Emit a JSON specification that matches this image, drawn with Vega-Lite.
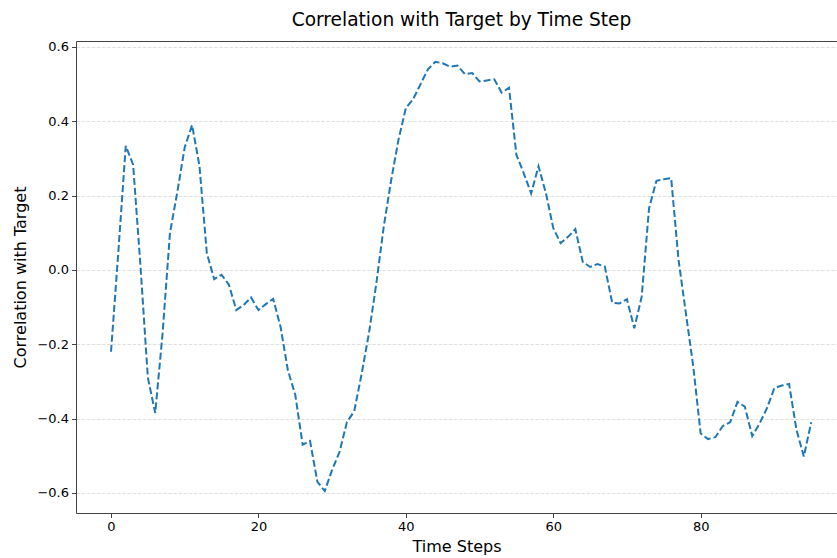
{
  "$schema": "https://vega.github.io/schema/vega-lite/v6.json",
  "width": 761,
  "height": 472,
  "autosize": {"type": "none"},
  "padding": {"left": 76, "top": 41, "right": 0, "bottom": 45},
  "background": "white",
  "config": {
    "view": {"stroke": null},
    "font": "DejaVu Sans"
  },
  "title": {
    "text": "Correlation with Target by Time Step",
    "fontSize": 18.6,
    "font": "DejaVu Sans",
    "fontWeight": "normal",
    "color": "#000",
    "anchor": "middle",
    "dx": 5,
    "offset": 11
  },
  "data": {
    "values": [
      {"t": 0, "corr": -0.22}, {"t": 1, "corr": 0.05}, {"t": 2, "corr": 0.334}, {"t": 3, "corr": 0.283},
      {"t": 4, "corr": 0.01}, {"t": 5, "corr": -0.29}, {"t": 6, "corr": -0.385}, {"t": 7, "corr": -0.17},
      {"t": 8, "corr": 0.1}, {"t": 9, "corr": 0.21}, {"t": 10, "corr": 0.33}, {"t": 11, "corr": 0.39},
      {"t": 12, "corr": 0.28}, {"t": 13, "corr": 0.045}, {"t": 14, "corr": -0.025}, {"t": 15, "corr": -0.013},
      {"t": 16, "corr": -0.04}, {"t": 17, "corr": -0.108}, {"t": 18, "corr": -0.094}, {"t": 19, "corr": -0.074},
      {"t": 20, "corr": -0.108}, {"t": 21, "corr": -0.092}, {"t": 22, "corr": -0.078}, {"t": 23, "corr": -0.153},
      {"t": 24, "corr": -0.27}, {"t": 25, "corr": -0.336}, {"t": 26, "corr": -0.47}, {"t": 27, "corr": -0.46},
      {"t": 28, "corr": -0.57}, {"t": 29, "corr": -0.595}, {"t": 30, "corr": -0.538}, {"t": 31, "corr": -0.49},
      {"t": 32, "corr": -0.41}, {"t": 33, "corr": -0.38}, {"t": 34, "corr": -0.28}, {"t": 35, "corr": -0.17},
      {"t": 36, "corr": -0.036}, {"t": 37, "corr": 0.116}, {"t": 38, "corr": 0.24}, {"t": 39, "corr": 0.35},
      {"t": 40, "corr": 0.435}, {"t": 41, "corr": 0.46}, {"t": 42, "corr": 0.5}, {"t": 43, "corr": 0.54},
      {"t": 44, "corr": 0.56}, {"t": 45, "corr": 0.556}, {"t": 46, "corr": 0.547}, {"t": 47, "corr": 0.55},
      {"t": 48, "corr": 0.527}, {"t": 49, "corr": 0.53}, {"t": 50, "corr": 0.507}, {"t": 51, "corr": 0.51},
      {"t": 52, "corr": 0.513}, {"t": 53, "corr": 0.477}, {"t": 54, "corr": 0.49}, {"t": 55, "corr": 0.31},
      {"t": 56, "corr": 0.26}, {"t": 57, "corr": 0.206}, {"t": 58, "corr": 0.279}, {"t": 59, "corr": 0.207},
      {"t": 60, "corr": 0.113}, {"t": 61, "corr": 0.072}, {"t": 62, "corr": 0.089}, {"t": 63, "corr": 0.11},
      {"t": 64, "corr": 0.022}, {"t": 65, "corr": 0.008}, {"t": 66, "corr": 0.016}, {"t": 67, "corr": 0.009},
      {"t": 68, "corr": -0.088}, {"t": 69, "corr": -0.09}, {"t": 70, "corr": -0.079}, {"t": 71, "corr": -0.157},
      {"t": 72, "corr": -0.072}, {"t": 73, "corr": 0.166}, {"t": 74, "corr": 0.24}, {"t": 75, "corr": 0.244},
      {"t": 76, "corr": 0.247}, {"t": 77, "corr": 0.027}, {"t": 78, "corr": -0.117}, {"t": 79, "corr": -0.26},
      {"t": 80, "corr": -0.44}, {"t": 81, "corr": -0.455}, {"t": 82, "corr": -0.45}, {"t": 83, "corr": -0.42},
      {"t": 84, "corr": -0.41}, {"t": 85, "corr": -0.355}, {"t": 86, "corr": -0.368}, {"t": 87, "corr": -0.447},
      {"t": 88, "corr": -0.413}, {"t": 89, "corr": -0.372}, {"t": 90, "corr": -0.318}, {"t": 91, "corr": -0.311},
      {"t": 92, "corr": -0.307}, {"t": 93, "corr": -0.43}, {"t": 94, "corr": -0.502}, {"t": 95, "corr": -0.41}
    ]
  },
  "resolve": {"axis": {"x": "independent"}},
  "layer": [
    {
      "mark": {"type": "line", "color": "#1f77b4", "strokeWidth": 2, "strokeDash": [7, 3], "clip": true},
      "encoding": {
        "x": {
          "field": "t", "type": "quantitative",
          "scale": {"domain": [-4.75, 98.5], "nice": false, "zero": false},
          "axis": {
            "title": "Time Steps", "values": [0, 20, 40, 60, 80], "format": "d",
            "grid": false, "domainColor": "#444", "domainWidth": 1,
            "tickColor": "#444", "tickSize": 4.5, "tickWidth": 1,
            "labelFont": "DejaVu Sans", "labelFontSize": 13, "labelColor": "#000", "labelPadding": 3,
            "titleFont": "DejaVu Sans", "titleFontSize": 16, "titleFontWeight": "normal", "titleColor": "#000", "titlePadding": 5
          }
        },
        "y": {
          "field": "corr", "type": "quantitative",
          "scale": {"domain": [-0.654, 0.616], "nice": false, "zero": false},
          "axis": {
            "title": "Correlation with Target", "values": [-0.6, -0.4, -0.2, 0, 0.2, 0.4, 0.6],
            "labelExpr": "replace(format(datum.value, '.1f'), '-', '\u2212')",
            "grid": true, "gridColor": "#dcdcdc", "gridDash": [3.5, 1.6], "gridWidth": 0.9,
            "domainColor": "#444", "domainWidth": 1,
            "tickColor": "#444", "tickSize": 4.5, "tickWidth": 1,
            "labelFont": "DejaVu Sans", "labelFontSize": 13, "labelColor": "#000", "labelPadding": 3,
            "titleFont": "DejaVu Sans", "titleFontSize": 16, "titleFontWeight": "normal", "titleColor": "#000", "titlePadding": 8
          }
        }
      }
    },
    {
      "mark": {"type": "line", "opacity": 0},
      "encoding": {
        "x": {
          "field": "t", "type": "quantitative",
          "scale": {"domain": [-4.75, 98.5], "nice": false, "zero": false},
          "axis": {"orient": "top", "title": null, "labels": false, "ticks": false, "grid": false, "domainColor": "#444", "domainWidth": 1}
        },
        "y": {"field": "corr", "type": "quantitative"}
      }
    }
  ]
}
